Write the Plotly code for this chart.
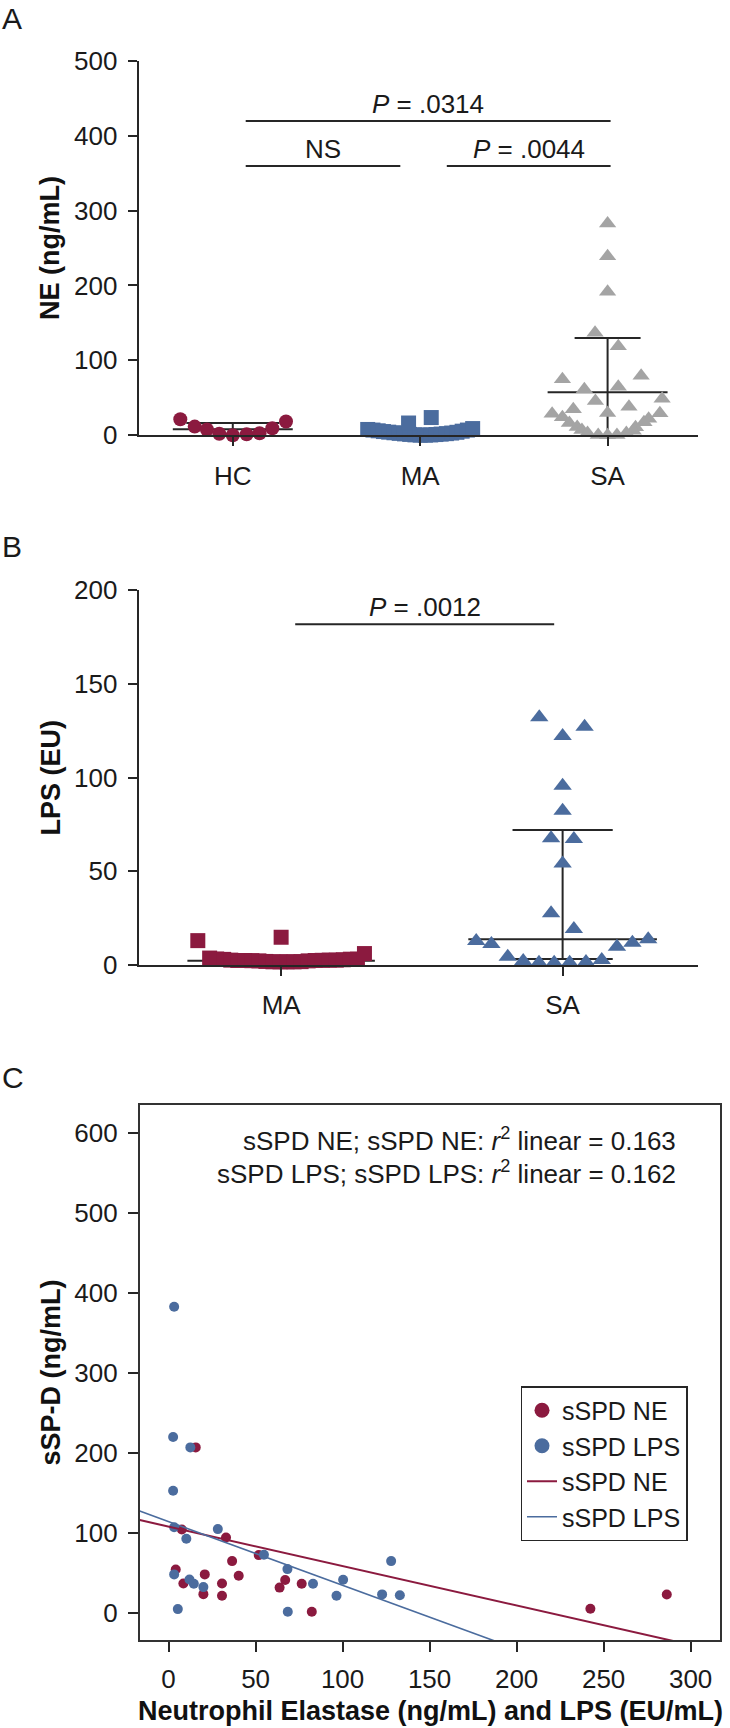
import numpy as np
import plotly.graph_objects as go

W, H = 730, 1728
def px(x): return x / W
def py(y): return 1 - y / H

MAROON = "#8B1A3F"
BLUE = "#4B6C9E"
GRAY = "#A4A4A4"
INK = "#262626"
FONT = "Liberation Sans, Arial, Helvetica, sans-serif"

# ---------------- Panel A data (NE, ng/mL) ----------------
A_categories = ["HC", "MA", "SA"]
A_hc_offset = [-0.28, -0.203, -0.138, -0.072, 0.0, 0.074, 0.143, 0.211, 0.284]
A_hc_values = [21.5, 11.6, 7.8, 2.0, 0.0, 1.3, 2.7, 9.5, 18.4]
A_ma_offset = [-0.28, -0.252, -0.224, -0.196, -0.168, -0.14, -0.112, -0.084, -0.056, -0.028, 0.0,
               0.028, 0.056, 0.084, 0.112, 0.14, 0.168, 0.196, 0.224, 0.252, 0.28, -0.062, 0.059]
A_ma_values = [7.8, 7.0, 6.0, 5.0, 4.2, 3.4, 2.6, 1.9, 1.2, 0.6, 0.2,
               0.2, 0.5, 1.0, 1.6, 2.2, 3.0, 4.0, 5.5, 7.0, 9.0, 16.4, 23.7]
A_sa_offset = [0.0, 0.0, 0.0, -0.067, 0.057, -0.241, 0.179, -0.124, 0.057, 0.291, -0.065, 0.114,
               -0.183, 0.0, -0.296, 0.279, -0.241, 0.219, -0.204, 0.194, -0.162, 0.149, -0.137,
               0.137, -0.107, -0.05, 0.0, 0.05, 0.1]
A_sa_values = [282.7, 239.0, 191.5, 136.9, 119.0, 74.7, 79.6, 61.3, 64.9, 48.9, 45.8, 38.2,
               34.7, 29.8, 28.9, 29.3, 24.0, 22.2, 16.4, 17.3, 11.1, 10.7, 7.1,
               6.2, 3.1, 0.4, 0.0, 0.4, 3.1]
# summary bars (centre line, upper / lower ends)
A_sum_pos = [0, 2]
A_sum_center = [8.0, 57.3]
A_sum_upper = [16.4, 129.8]
A_sum_lower = [8.0, 0.0]
# significance brackets
A_sig_x0 = [0.069, 0.069, 1.142]
A_sig_x1 = [2.016, 0.894, 2.016]
A_sig_y = [419.5, 359.5, 359.5]
A_sig_text = ["<i>P</i> = .0314", "NS", "<i>P</i> = .0044"]

# ---------------- Panel B data (LPS, EU) ----------------
B_categories = ["MA", "SA"]
B_ma_offset = [-0.254, -0.229, -0.204, -0.179, -0.154, -0.129, -0.104, -0.079, -0.054, -0.029,
               -0.004, 0.021, 0.046, 0.071, 0.096, 0.121, 0.146, 0.171, 0.196, 0.221, 0.246,
               0.271, 0.296, -0.296, 0.0]
B_ma_values = [3.7, 3.2, 3.0, 2.6, 2.4, 2.4, 2.3, 2.2, 1.9, 1.7,
               1.7, 1.7, 1.7, 1.8, 2.2, 2.4, 2.5, 2.6, 2.6, 2.8, 3.1,
               3.1, 6.1, 13.0, 14.8]
B_sa_offset = [-0.083, 0.078, 0.0, 0.0, 0.0, -0.041, 0.04, 0.0, -0.041, 0.04, -0.307, -0.253,
               -0.195, -0.14, -0.084, -0.03, 0.025, 0.083, 0.139, 0.193, 0.248, 0.304]
B_sa_values = [132.1, 127.1, 122.1, 95.6, 82.3, 67.6, 67.2, 54.2, 27.6, 19.2, 12.8, 11.2,
               4.4, 2.1, 1.2, 1.2, 1.2, 1.6, 2.7, 9.8, 11.9, 13.7]
B_sum_pos = [0, 1]
B_sum_center = [2.3, 13.7]
B_sum_upper = [None, 72.0]
B_sum_lower = [None, 3.2]
B_sig_x0 = [0.05]
B_sig_x1 = [0.97]
B_sig_y = [181.7]
B_sig_text = ["<i>P</i> = .0012"]

# ---------------- Panel C data ----------------
C_ne_x = [15.6, 7.6, 33.0, 51.8, 36.5, 40.3, 4.1, 8.5, 20.8, 20.0, 30.7, 30.7, 67.0, 63.8,
          76.5, 82.3, 242.4, 286.3]
C_ne_y = [206.7, 104.0, 94.2, 72.1, 64.6, 46.3, 54.2, 36.7, 48.0, 23.3, 36.7, 21.3, 40.9, 31.5,
          36.3, 1.3, 5.0, 22.9]
C_lps_x = [3.2, 2.6, 12.5, 2.6, 3.2, 10.2, 28.3, 54.8, 3.2, 12.0, 14.5, 20.0, 5.3, 68.3, 68.5,
           83.0, 100.3, 96.5, 122.7, 132.9, 127.9]
C_lps_y = [382.5, 219.6, 206.7, 152.5, 107.0, 92.5, 104.6, 72.5, 48.0, 41.7, 36.3, 32.1, 4.6,
           54.6, 1.3, 36.3, 41.3, 21.3, 23.0, 22.0, 64.6]
C_fit_ne = {"intercept": 107.7, "slope": -0.4928}
C_fit_lps = {"intercept": 113.9, "slope": -0.7956}
C_r2_text = ["sSPD NE; sSPD NE: <i>r</i><sup>2</sup> linear = 0.163",
             "sSPD LPS; sSPD LPS: <i>r</i><sup>2</sup> linear = 0.162"]

# ---------------- axes ranges (layout) ----------------
A_XR = [-0.502, 2.484]
B_XR = [-0.506, 1.482]
C_XR = [-16.6, 317]
C_YR = [-34, 634.6]

fig = go.Figure()

def summary_trace(pos, center, upper, lower, cap_hw, xa, ya, mean_hw):
    xs, ys = [], []
    for i, p in enumerate(pos):
        xs += [p - mean_hw[i], p + mean_hw[i], None]
        ys += [center[i], center[i], None]
        if upper[i] is not None:
            xs += [p - cap_hw[i], p + cap_hw[i], None]
            ys += [upper[i], upper[i], None]
            xs += [p, p, None]
            ys += [lower[i], upper[i], None]
        if lower[i] is not None and lower[i] > 0 and lower[i] != center[i]:
            xs += [p - cap_hw[i], p + cap_hw[i], None]
            ys += [lower[i], lower[i], None]
    return go.Scatter(x=xs, y=ys, mode="lines", line=dict(color=INK, width=2),
                      xaxis=xa, yaxis=ya, showlegend=False, hoverinfo="skip", cliponaxis=False)

def sig_trace(x0, x1, yv, xa, ya):
    xs, ys = [], []
    for a, b, c in zip(x0, x1, yv):
        xs += [a, b, None]
        ys += [c, c, None]
    return go.Scatter(x=xs, y=ys, mode="lines", line=dict(color=INK, width=2),
                      xaxis=xa, yaxis=ya, showlegend=False, hoverinfo="skip")

# Panel A
fig.add_trace(summary_trace(A_sum_pos, A_sum_center, A_sum_upper, A_sum_lower,
                            [0.248, 0.176], "x", "y", mean_hw=[0.32, 0.32]))
fig.add_trace(go.Scatter(x=[0 + o for o in A_hc_offset], y=A_hc_values, mode="markers",
                         marker=dict(symbol="circle", size=14, color=MAROON),
                         xaxis="x", yaxis="y", showlegend=False, cliponaxis=False))
fig.add_trace(go.Scatter(x=[1 + o for o in A_ma_offset], y=A_ma_values, mode="markers",
                         marker=dict(symbol="square", size=15, color=BLUE),
                         xaxis="x", yaxis="y", showlegend=False, cliponaxis=False))
fig.add_trace(go.Scatter(x=[2 + o for o in A_sa_offset], y=A_sa_values, mode="markers",
                         marker=dict(symbol="triangle-up", size=15, color=GRAY),
                         xaxis="x", yaxis="y", showlegend=False, cliponaxis=False))
fig.add_trace(sig_trace(A_sig_x0, A_sig_x1, A_sig_y, "x", "y"))

# Panel B
fig.add_trace(summary_trace(B_sum_pos, B_sum_center, B_sum_upper, B_sum_lower,
                            [0.178, 0.178], "x2", "y2", mean_hw=[0.333, 0.335]))
fig.add_trace(go.Scatter(x=[0 + o for o in B_ma_offset], y=B_ma_values, mode="markers",
                         marker=dict(symbol="square", size=15, color=MAROON),
                         xaxis="x2", yaxis="y2", showlegend=False, cliponaxis=False))
fig.add_trace(go.Scatter(x=[1 + o for o in B_sa_offset], y=B_sa_values, mode="markers",
                         marker=dict(symbol="triangle-up", size=16, color=BLUE),
                         xaxis="x2", yaxis="y2", showlegend=False, cliponaxis=False))
fig.add_trace(sig_trace(B_sig_x0, B_sig_x1, B_sig_y, "x2", "y2"))

# Panel C
fig.add_trace(go.Scatter(x=C_ne_x, y=C_ne_y, mode="markers",
                         marker=dict(size=10, color=MAROON), xaxis="x3", yaxis="y3",
                         showlegend=False))
fig.add_trace(go.Scatter(x=C_lps_x, y=C_lps_y, mode="markers",
                         marker=dict(size=10, color=BLUE), xaxis="x3", yaxis="y3",
                         showlegend=False))
xfit = np.array(C_XR)
fig.add_trace(go.Scatter(x=xfit, y=C_fit_ne["intercept"] + C_fit_ne["slope"] * xfit,
                         mode="lines", line=dict(color=MAROON, width=2),
                         xaxis="x3", yaxis="y3", showlegend=False))
fig.add_trace(go.Scatter(x=xfit, y=C_fit_lps["intercept"] + C_fit_lps["slope"] * xfit,
                         mode="lines", line=dict(color=BLUE, width=1.6),
                         xaxis="x3", yaxis="y3", showlegend=False))
# legend entries
fig.add_trace(go.Scatter(x=[None], y=[None], mode="markers", name="sSPD NE",
                         marker=dict(size=15, color=MAROON), xaxis="x3", yaxis="y3"))
fig.add_trace(go.Scatter(x=[None], y=[None], mode="markers", name="sSPD LPS",
                         marker=dict(size=15, color=BLUE), xaxis="x3", yaxis="y3"))
fig.add_trace(go.Scatter(x=[None], y=[None], mode="lines", name="sSPD NE",
                         line=dict(color=MAROON, width=2), xaxis="x3", yaxis="y3"))
fig.add_trace(go.Scatter(x=[None], y=[None], mode="lines", name="sSPD LPS",
                         line=dict(color=BLUE, width=1.6), xaxis="x3", yaxis="y3"))

TXT = 26
TICKFONT = dict(size=TXT, color="#1a1a1a", family=FONT)
def ax(**kw):
    d = dict(showline=True, linecolor=INK, linewidth=2, ticks="outside", ticklen=9,
             tickwidth=2, tickcolor=INK, showgrid=False, zeroline=False, tickfont=TICKFONT,
             fixedrange=True, automargin=False)
    d.update(kw)
    return d

annotations = []
for x0, x1, yv, t in zip(A_sig_x0, A_sig_x1, A_sig_y, A_sig_text):
    annotations.append(dict(x=(x0 + x1) / 2, y=yv, xref="x", yref="y", text=t, showarrow=False,
                            yanchor="bottom", font=dict(size=TXT, color="#1a1a1a", family=FONT)))
for x0, x1, yv, t in zip(B_sig_x0, B_sig_x1, B_sig_y, B_sig_text):
    annotations.append(dict(x=(x0 + x1) / 2, y=yv, xref="x2", yref="y2", text=t, showarrow=False,
                            yanchor="bottom", font=dict(size=TXT, color="#1a1a1a", family=FONT)))
for t, yc in zip(C_r2_text, [1139, 1172]):
    annotations.append(dict(x=px(678), y=py(yc), xref="paper", yref="paper", text=t,
                            showarrow=False, xanchor="right", yanchor="middle",
                            font=dict(size=TXT, color="#1a1a1a", family=FONT)))
for letter, yc in zip(["A", "B", "C"], [19, 546, 1077]):
    annotations.append(dict(x=px(0), y=py(yc), xref="paper", yref="paper", text=letter,
                            showarrow=False, xanchor="left", yanchor="middle",
                            font=dict(size=30, color="#1a1a1a", family=FONT)))
TITLEFONT = dict(size=27, color="#111111", family=FONT)
for t, yc in zip(["<b>NE (ng/mL)</b>", "<b>LPS (EU)</b>", "<b>sSP-D (ng/mL)</b>"],
                 [248, 777.5, 1372.5]):
    annotations.append(dict(x=px(50), y=py(yc), xref="paper", yref="paper", text=t,
                            textangle=-90, showarrow=False, xanchor="center", yanchor="middle",
                            font=TITLEFONT))
annotations.append(dict(x=px(430), y=py(1711), xref="paper", yref="paper",
                        text="<b>Neutrophil Elastase (ng/mL) and LPS (EU/mL)</b>",
                        showarrow=False, xanchor="center", yanchor="middle", font=TITLEFONT))

fig.update_layout(
    width=W, height=H, margin=dict(l=0, r=0, t=0, b=0, pad=0, autoexpand=False),
    paper_bgcolor="white", plot_bgcolor="white",
    font=dict(family=FONT, color="#1a1a1a"),
    xaxis=ax(domain=[px(138.7), px(698.3)], range=A_XR, tickvals=[0, 1, 2],
             ticktext=A_categories, anchor="y", ticklabelstandoff=7),
    yaxis=ax(domain=[py(435.3), py(60.7)], range=[0, 500], tickvals=[0, 100, 200, 300, 400, 500],
             anchor="x", ticklabelstandoff=5),
    xaxis2=ax(domain=[px(138.7), px(698.3)], range=B_XR, tickvals=[0, 1],
              ticktext=B_categories, anchor="y2", ticklabelstandoff=7),
    yaxis2=ax(domain=[py(965), py(590)], range=[0, 200], tickvals=[0, 50, 100, 150, 200],
              anchor="x2", ticklabelstandoff=5),
    xaxis3=ax(domain=[px(139.7), px(720.2)], range=C_XR, tickvals=[0, 50, 100, 150, 200, 250, 300],
              anchor="y3", mirror=True, linewidth=1.5, linecolor="#333333", tickwidth=1.5,
              ticklen=10, ticklabelstandoff=5),
    yaxis3=ax(domain=[py(1640), py(1105)], range=C_YR, tickvals=[0, 100, 200, 300, 400, 500, 600],
              anchor="x3", mirror=True, linewidth=1.5, linecolor="#333333", tickwidth=1.5,
              ticklen=10, ticklabelstandoff=5),
    showlegend=True,
    legend=dict(x=px(520.5), y=py(1386), xanchor="left", yanchor="top",
                bordercolor=INK, borderwidth=1.5, bgcolor="white",
                font=dict(size=25, color="#1a1a1a", family=FONT), tracegroupgap=0),
    annotations=annotations,
)

fig.write_html(
    "out.html",
    config={"displayModeBar": False},
    post_script="document.body.style.margin='0';document.body.style.padding='0';"
                "document.documentElement.style.overflow='hidden';",
)
